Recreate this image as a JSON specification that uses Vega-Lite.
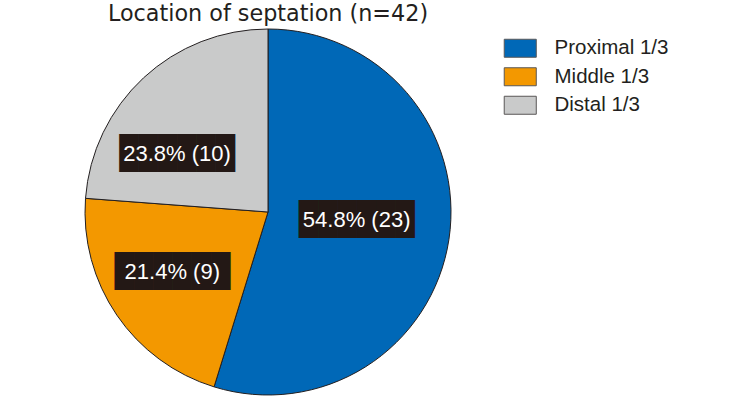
{
  "$schema": "https://vega.github.io/schema/vega-lite/v6.json",
  "width": 366,
  "height": 366,
  "autosize": {"type": "none"},
  "padding": {"left": 85, "top": 29, "right": 302, "bottom": 11},
  "background": "white",
  "config": {"view": {"stroke": null}, "font": "Liberation Sans"},
  "title": {
    "text": "Location of septation (n=42)",
    "font": "DejaVu Sans",
    "fontSize": 22.3,
    "fontWeight": "normal",
    "color": "#231f20",
    "anchor": "middle",
    "offset": 2
  },
  "data": {
    "values": [
      {"location": "Proximal 1/3", "order": 1, "count": 23, "label": "54.8% (23)"},
      {"location": "Middle 1/3", "order": 2, "count": 9, "label": "21.4% (9)"},
      {"location": "Distal 1/3", "order": 3, "count": 10, "label": "23.8% (10)"}
    ]
  },
  "encoding": {
    "theta": {"field": "count", "type": "quantitative", "stack": true},
    "order": {"field": "order", "type": "quantitative"}
  },
  "layer": [
    {
      "mark": {"type": "arc", "outerRadius": 183, "stroke": "#231f20", "strokeWidth": 1},
      "encoding": {
        "color": {
          "field": "location",
          "type": "nominal",
          "sort": ["Proximal 1/3", "Middle 1/3", "Distal 1/3"],
          "scale": {"domain": ["Proximal 1/3", "Middle 1/3", "Distal 1/3"], "range": ["#0068b7", "#f39800", "#c9caca"]},
          "legend": {
            "title": null,
            "orient": "none",
            "legendX": 425,
            "legendY": 9,
            "symbolType": "M-1.78,-1H1.78V1H-1.78Z",
            "symbolSize": 324,
            "symbolStrokeColor": "#595757",
            "symbolStrokeWidth": 1,
            "labelFont": "Liberation Sans",
            "labelFontSize": 20.5,
            "labelColor": "#231f20",
            "labelOffset": 24,
            "rowPadding": 5.5,
            "labelLimit": 300
          }
        }
      }
    },
    {
      "mark": {"type": "text", "radius": 89, "thetaOffset": -0.063, "font": "DejaVu Sans Mono", "fontSize": 32, "color": "#231815", "baseline": "middle", "align": "center"},
      "encoding": {"text": {"condition": {"test": "datum.location === 'Proximal 1/3'", "value": "██████"}, "value": ""}}
    },
    {
      "mark": {"type": "text", "radius": 89, "thetaOffset": -0.063, "font": "Liberation Sans", "fontSize": 22, "color": "white", "baseline": "middle", "align": "center"},
      "encoding": {"text": {"condition": {"test": "datum.location === 'Proximal 1/3'", "field": "label", "type": "nominal"}, "value": ""}}
    },
    {
      "mark": {"type": "text", "radius": 113, "thetaOffset": 0.038, "font": "DejaVu Sans Mono", "fontSize": 32, "color": "#231815", "baseline": "middle", "align": "center"},
      "encoding": {"text": {"condition": {"test": "datum.location === 'Middle 1/3'", "value": "██████"}, "value": ""}}
    },
    {
      "mark": {"type": "text", "radius": 113, "thetaOffset": 0.038, "font": "Liberation Sans", "fontSize": 22, "color": "white", "baseline": "middle", "align": "center"},
      "encoding": {"text": {"condition": {"test": "datum.location === 'Middle 1/3'", "field": "label", "type": "nominal"}, "value": ""}}
    },
    {
      "mark": {"type": "text", "radius": 108, "thetaOffset": -0.253, "font": "DejaVu Sans Mono", "fontSize": 32, "color": "#231815", "baseline": "middle", "align": "center"},
      "encoding": {"text": {"condition": {"test": "datum.location === 'Distal 1/3'", "value": "██████"}, "value": ""}}
    },
    {
      "mark": {"type": "text", "radius": 108, "thetaOffset": -0.253, "font": "Liberation Sans", "fontSize": 22, "color": "white", "baseline": "middle", "align": "center"},
      "encoding": {"text": {"condition": {"test": "datum.location === 'Distal 1/3'", "field": "label", "type": "nominal"}, "value": ""}}
    }
  ]
}
